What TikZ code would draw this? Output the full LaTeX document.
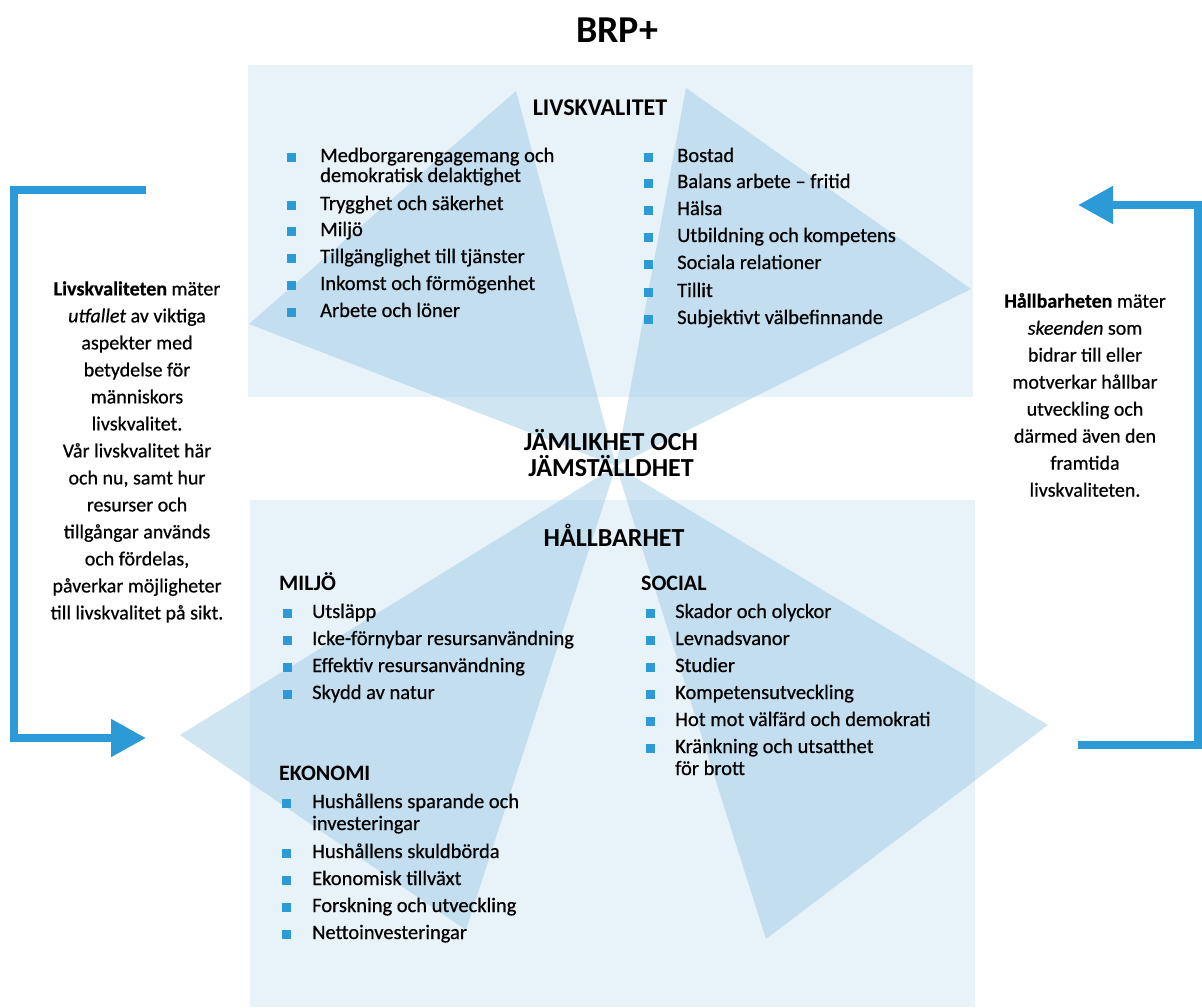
\documentclass[tikz,border=0pt]{standalone}
\usepackage{fontspec}
\setmainfont{Carlito}
\newfontfamily\heavyfont[FakeBold=0.6,Ligatures=TeX]{Carlito}
\usetikzlibrary{arrows.meta}
\definecolor{brpblue}{HTML}{2B9AD6}
\definecolor{panelblue}{HTML}{E8F2F9}
\definecolor{fanblue}{HTML}{9FCBE6}

\begin{document}
\begin{tikzpicture}[x=1pt,y=-1pt]
\tikzstyle{every node}=[inner sep=0pt, font=\heavyfont\fontsize{20.5}{20.5}\selectfont]
\tikzstyle{item}=[anchor=west, text height=14pt, text depth=4pt]
\tikzstyle{head}=[font=\fontsize{26}{26}\selectfont\bfseries, align=center]
\tikzstyle{subhead}=[anchor=west, font=\fontsize{22}{22}\selectfont\bfseries, text height=14pt, text depth=4pt]
\tikzstyle{bullet}=[fill=brpblue, minimum size=9pt]
\tikzstyle{fan}=[fill=fanblue, fill opacity=0.5]
\tikzstyle{loop}=[brpblue, line width=8pt, -{Triangle[length=35pt,width=36pt]}]
\tikzstyle{desc}=[align=center, font=\heavyfont\fontsize{20}{27}\selectfont]

% fix the canvas
\useasboundingbox (0,0) rectangle (1202,1007);

% the two panels
\fill[panelblue] (248,65) rectangle (973,397);
\fill[panelblue] (250,500) rectangle (975,1007);

% four fans meeting in the middle
\coordinate (mid) at (616,466);
\fill[fan] (mid) -- (516,91) -- (249,324) -- cycle;
\fill[fan] (mid) -- (686,88) -- (971,289) -- cycle;
\fill[fan] (mid) -- (180,735) -- (466,930) -- cycle;
\fill[fan] (mid) -- (1048,725) -- (766,939) -- cycle;

% feedback arrows
\coordinate (lfrom) at (146,190);
\coordinate (lto) at (146,738);
\draw[loop] (lfrom) -- ++(-132,0) |- (lto);
\coordinate (rfrom) at (1078,745);
\coordinate (rto) at (1078,205);
\draw[loop] (rfrom) -- ++(120,0) |- (rto);

% headings
\node[font=\fontsize{38}{38}\selectfont\bfseries] (brp) at (617,30) {BRP+};
\node[head, font=\fontsize{24}{24}\selectfont\bfseries] (lq) at (600,108) {LIVSKVALITET};
\node[head] (eq) at (611,453) {JÄMLIKHET OCH\\JÄMSTÄLLDHET};
\node[head] (sus) at (614,535) {HÅLLBARHET};
\node[subhead] (env) at (279,585) {MILJÖ};
\node[subhead] (soc) at (641,585) {SOCIAL};
\node[subhead] (eco) at (279,775) {EKONOMI};

% livskvalitet, left column
\foreach \y/\t in {157/Medborgarengagemang och, 177/demokratisk delaktighet,
    205/Trygghet och säkerhet, 231/Miljö, 258/Tillgänglighet till tjänster,
    285/Inkomst och förmögenhet, 312/Arbete och löner}
  \node[item] (lqa\y) at (320,\y) {\t};
\foreach \y in {157,205,231,258,285,312}
  \node[bullet] (lqab\y) at (291,\y) {};

% livskvalitet, right column
\foreach \y/\t in {157/Bostad, 183/Balans arbete – fritid, 210/Hälsa,
    237/Utbildning och kompetens, 264/Sociala relationer, 292/Tillit,
    319/Subjektivt välbefinnande}
{
  \node[item] (lqb\y) at (677,\y) {\t};
  \node[bullet] (lqbb\y) at (648,\y) {};
}

% miljö
\foreach \y/\t in {613/Utsläpp, 640/Icke-förnybar resursanvändning,
    667/Effektiv resursanvändning, 694/Skydd av natur}
{
  \node[item] (env\y) at (312,\y) {\t};
  \node[bullet] (envb\y) at (287,\y) {};
}

% social
\foreach \y/\t in {613/Skador och olyckor, 640/Levnadsvanor, 667/Studier,
    694/Kompetensutveckling, 721/Hot mot välfärd och demokrati,
    748/Kränkning och utsatthet, 770/för brott}
  \node[item] (soc\y) at (675,\y) {\t};
\foreach \y in {613,640,667,694,721,748}
  \node[bullet] (socb\y) at (650,\y) {};

% ekonomi
\foreach \y/\t in {803/Hushållens sparande och, 825/investeringar,
    853/Hushållens skuldbörda, 880/Ekonomisk tillväxt,
    907/Forskning och utveckling, 934/Nettoinvesteringar}
  \node[item] (eco\y) at (312,\y) {\t};
\foreach \y in {803,853,880,907,934}
  \node[bullet] (ecob\y) at (286,\y) {};

% side texts
\node[desc] (ldesc) at (137,452) {\textbf{Livskvaliteten} mäter\\
  \textit{utfallet} av viktiga\\ aspekter med\\ betydelse för\\ människors\\
  livskvalitet.\\ Vår livskvalitet här\\ och nu, samt hur\\ resurser och\\
  tillgångar används\\ och fördelas,\\ påverkar möjligheter\\
  till livskvalitet på sikt.};
\node[desc] (rdesc) at (1085,395) {\textbf{Hållbarheten} mäter\\
  \textit{skeenden} som\\ bidrar till eller\\ motverkar hållbar\\
  utveckling och\\ därmed även den\\ framtida\\ livskvaliteten.};

\end{tikzpicture}
\end{document}
